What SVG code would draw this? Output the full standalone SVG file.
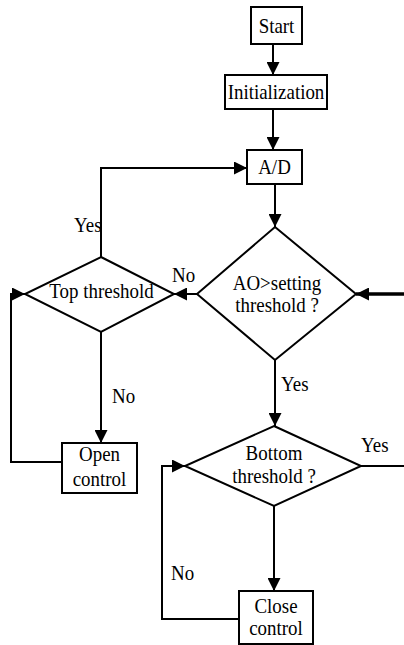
<svg xmlns="http://www.w3.org/2000/svg" width="404" height="645" viewBox="0 0 404 645">
  <style>
    .box { fill: #fff; stroke: #000; stroke-width: 2; }
    text { font-family: "Liberation Serif", "DejaVu Serif", "Times New Roman", Times, serif; font-size: 21.5px; fill: #000; }
    .lbl { text-anchor: middle; }
    .wire { fill: none; stroke: #000; stroke-width: 2; }
    .thick { fill: none; stroke: #000; stroke-width: 3.5; }
  </style>
  <defs>
    <marker id="arrow" markerUnits="userSpaceOnUse" markerWidth="13" markerHeight="13" viewBox="0 0 12 12" refX="12" refY="6" orient="auto">
      <path d="M0 0 L12 6 L0 12 Z" fill="#000"/>
    </marker>
  </defs>
  <rect width="404" height="645" fill="#fff"/>

  <g id="connectors">
    <path class="wire" d="M273 44 V75" marker-end="url(#arrow)"/>
    <path class="wire" d="M273 109 V150" marker-end="url(#arrow)"/>
    <path class="wire" d="M275 184 V227" marker-end="url(#arrow)"/>
    <path class="wire" d="M197 294 H174" marker-end="url(#arrow)"/>
    <path class="wire" d="M101 257 V168 H247" marker-end="url(#arrow)"/>
    <path class="wire" d="M101 332 V443" marker-end="url(#arrow)"/>
    <path class="wire" d="M62 462 H11 V294 H25" marker-end="url(#arrow)"/>
    <path class="thick" d="M404 294 H356" marker-end="url(#arrow)"/>
    <path class="wire" d="M275 360 V426" marker-end="url(#arrow)"/>
    <path class="wire" d="M361 466 H404"/>
    <path class="wire" d="M239 619 H162 V466 H185" marker-end="url(#arrow)"/>
    <path class="wire" d="M274 506 V591" marker-end="url(#arrow)"/>
    <!-- branch labels; text is drawn slightly condensed -->
    <text transform="translate(172 282) scale(0.88 1)">No</text>
    <text transform="translate(74 232) scale(0.88 1)">Yes</text>
    <text transform="translate(112 403) scale(0.88 1)">No</text>
    <text transform="translate(281 391) scale(0.88 1)">Yes</text>
    <text transform="translate(361 452) scale(0.88 1)">Yes</text>
    <text transform="translate(171 580) scale(0.88 1)">No</text>
  </g>

  <g id="start">
    <rect class="box" x="251" y="7" width="51" height="37"/>
    <text class="lbl" transform="translate(276.5 33) scale(0.88 1)">Start</text>
  </g>
  <g id="initialization">
    <rect class="box" x="225" y="75" width="102" height="34"/>
    <text class="lbl" transform="translate(276 99) scale(0.88 1)">Initialization</text>
  </g>
  <g id="ad">
    <rect class="box" x="247" y="150" width="55" height="34"/>
    <text class="lbl" transform="translate(274.5 174) scale(0.88 1)">A/D</text>
  </g>
  <g id="setting-check">
    <path class="box" d="M275 227 L356 294 L275 360 L197 294 Z"/>
    <text class="lbl" transform="translate(277 290) scale(0.88 1)">AO&gt;setting</text>
    <text class="lbl" transform="translate(277 312) scale(0.88 1)">threshold ?</text>
  </g>
  <g id="top-threshold">
    <path class="box" d="M101 257 L174 294 L101 332 L25 294 Z"/>
    <text class="lbl" transform="translate(101.5 298) scale(0.88 1)">Top threshold</text>
  </g>
  <g id="open-control">
    <rect class="box" x="62" y="443" width="75" height="50"/>
    <text class="lbl" transform="translate(99.5 461) scale(0.88 1)">Open</text>
    <text class="lbl" transform="translate(99.5 486) scale(0.88 1)">control</text>
  </g>
  <g id="bottom-threshold">
    <path class="box" d="M274 426 L361 466 L274 506 L185 466 Z"/>
    <text class="lbl" transform="translate(274 460) scale(0.88 1)">Bottom</text>
    <text class="lbl" transform="translate(274 483) scale(0.88 1)">threshold ?</text>
  </g>
  <g id="close-control">
    <rect class="box" x="239" y="591" width="74" height="53"/>
    <text class="lbl" transform="translate(276 613) scale(0.88 1)">Close</text>
    <text class="lbl" transform="translate(276 635) scale(0.88 1)">control</text>
  </g>
</svg>
